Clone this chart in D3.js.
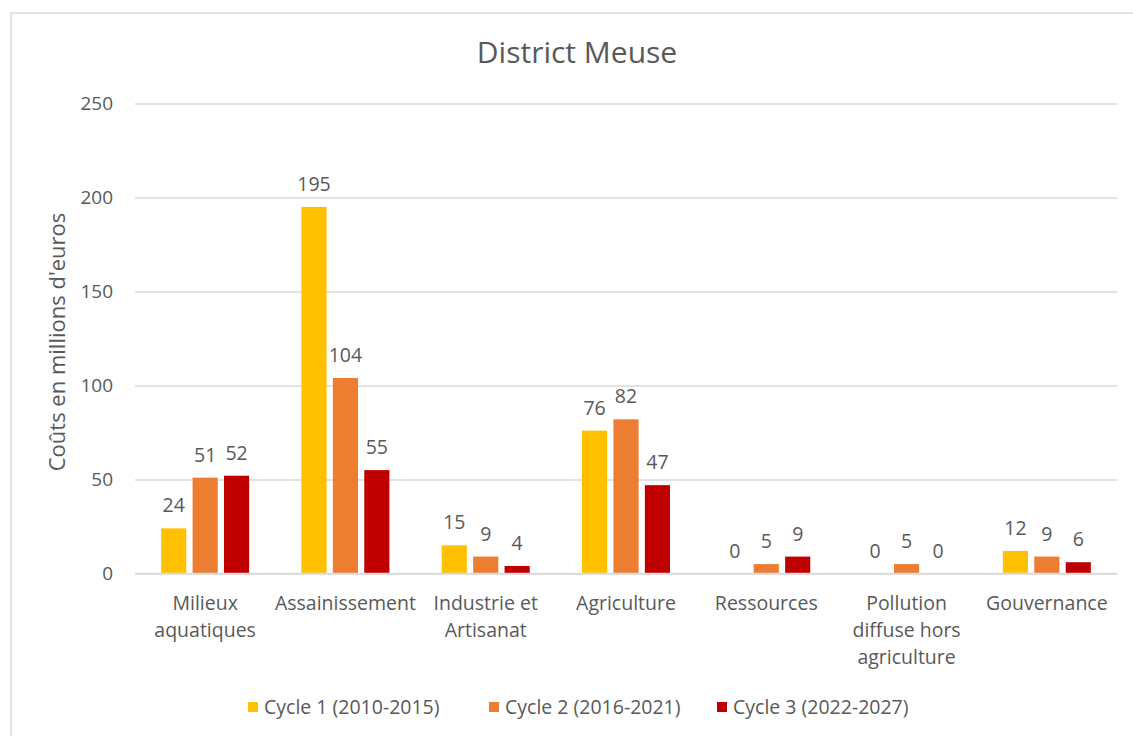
<!DOCTYPE html>
<html>
<head>
<meta charset="utf-8">
<script src="https://cdn.jsdelivr.net/npm/d3@7"></script>
<style>
  html, body { margin: 0; padding: 0; background: #fff; }
  svg { display: block; font-family: 'Open Sans', sans-serif; }
</style>
</head>
<body>
<svg id="chart" width="1133" height="736"></svg>
<script>
// catégories (axe X), une ligne par entrée
const categories = [
  ['Milieux', 'aquatiques'],
  ['Assainissement'],
  ['Industrie et', 'Artisanat'],
  ['Agriculture'],
  ['Ressources'],
  ['Pollution', 'diffuse hors', 'agriculture'],
  ['Gouvernance']
];
const seriesNames = ['Cycle 1 (2010-2015)', 'Cycle 2 (2016-2021)', 'Cycle 3 (2022-2027)'];
const cycle1 = [24, 195, 15, 76, 0, 0, 12];
const cycle2 = [51, 104, 9, 82, 5, 5, 9];
const cycle3 = [52, 55, 4, 47, 9, 0, 6];
const yTicks = [0, 50, 100, 150, 200, 250];
const colors = ['#ffc000', '#ed7d31', '#c00000'];

const svg = d3.select('#chart');
const plot = { left: 135, right: 1117, top: 103.5, bottom: 573.5 };
const textCol = '#595959', gridCol = '#d9d9d9';

// cadre du graphique (bord droit/bas hors image)
svg.append('rect').attr('x', 11).attr('y', 13).attr('width', 1140).attr('height', 740)
  .attr('fill', '#fff').attr('stroke', gridCol).attr('stroke-width', 1.5);

const x0 = d3.scaleBand().domain(d3.range(categories.length)).range([plot.left, plot.right]).padding(0);
const x1 = d3.scaleBand().domain(d3.range(seriesNames.length)).range([-44, 44]).paddingInner(0.2);
const y = d3.scaleLinear().domain([0, 250]).range([plot.bottom, plot.top]);

// grille + libellés Y
const yAxis = d3.axisLeft(y).tickValues(yTicks).tickSize(-(plot.right - plot.left)).tickPadding(22);
const gy = svg.append('g').attr('transform', 'translate(' + plot.left + ',0)').call(yAxis);
gy.select('.domain').remove();
gy.selectAll('.tick line').attr('stroke', gridCol).attr('stroke-width', 1.3);
gy.selectAll('.tick text').attr('fill', textCol).attr('font-size', 19).attr('font-family', "'Open Sans', sans-serif");

// barres
const series = [cycle1, cycle2, cycle3];
const rows = [];
series.forEach(function (vals, s) {
  vals.forEach(function (v, c) { rows.push({ s: s, c: c, v: v }); });
});
const bx = function (d) { return x0(d.c) + x0.bandwidth() / 2 + x1(d.s); };

svg.append('g').selectAll('rect').data(rows).join('rect')
  .attr('x', bx).attr('width', x1.bandwidth())
  .attr('y', function (d) { return y(d.v); })
  .attr('height', function (d) { return y(0) - y(d.v); })
  .attr('fill', function (d) { return colors[d.s]; });

// axe 0
svg.append('line').attr('x1', plot.left).attr('x2', plot.right).attr('y1', y(0)).attr('y2', y(0))
  .attr('stroke', gridCol).attr('stroke-width', 1.5);

// étiquettes de données
svg.append('g').selectAll('text').data(rows).join('text')
  .attr('x', function (d) { return bx(d) + x1.bandwidth() / 2; })
  .attr('y', function (d) { return y(d.v) - 16; })
  .attr('text-anchor', 'middle').attr('fill', textCol).attr('font-size', 19.5)
  .text(function (d) { return d3.format('.0f')(d.v); });

// libellés X
const gx = svg.append('g');
categories.forEach(function (lines, c) {
  const t = gx.append('text').attr('text-anchor', 'middle').attr('fill', textCol).attr('font-size', 19.5)
    .attr('x', x0(c) + x0.bandwidth() / 2).attr('y', 610);
  lines.forEach(function (ln, i) {
    t.append('tspan').attr('x', x0(c) + x0.bandwidth() / 2).attr('dy', i === 0 ? 0 : 27).text(ln);
  });
});

// titre
svg.append('text').attr('x', 577).attr('y', 63).attr('text-anchor', 'middle')
  .attr('fill', textCol).attr('font-size', 30).text('District Meuse');

// titre axe Y
svg.append('text').attr('transform', 'translate(65,342) rotate(-90)').attr('text-anchor', 'middle')
  .attr('fill', textCol).attr('font-size', 22).text("Coûts en millions d'euros");

// légende
const legX = [248, 489, 717];
const leg = svg.append('g').selectAll('g').data(seriesNames).join('g')
  .attr('transform', function (d, i) { return 'translate(' + legX[i] + ',707)'; });
leg.append('rect').attr('x', 0).attr('y', -5).attr('width', 10).attr('height', 10)
  .attr('fill', function (d, i) { return colors[i]; });
leg.append('text').attr('x', 16).attr('y', 7).attr('fill', textCol).attr('font-size', 19.5).text(function (d) { return d; });
</script>
</body>
</html>
